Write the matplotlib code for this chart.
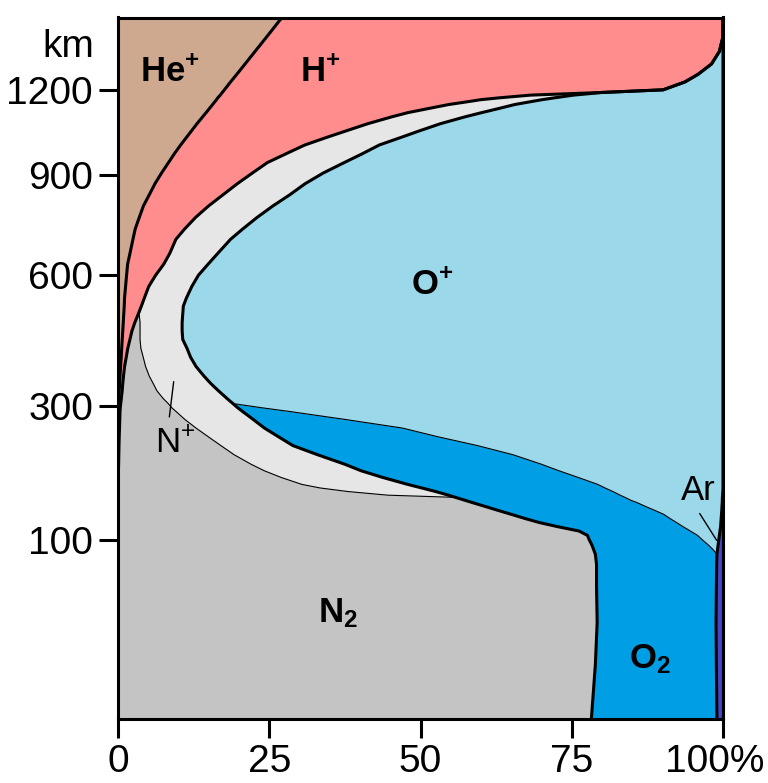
import numpy as np
import matplotlib.pyplot as plt
import matplotlib.transforms as mtransforms

plt.rcParams['font.family'] = ['Liberation Sans', 'DejaVu Sans']
plt.rcParams['mathtext.fontset'] = 'custom'
plt.rcParams['mathtext.rm'] = 'Liberation Sans'
plt.rcParams['mathtext.bf'] = 'Liberation Sans:bold'
plt.rcParams['mathtext.it'] = 'Liberation Sans:italic'

# altitude levels (km)
alt_km = [0, 10, 30, 55, 75, 85, 90, 95, 100, 105, 110, 115, 120, 125, 130, 135,
          140, 145, 148, 152, 155, 160, 165, 170, 180, 190, 200, 215, 230, 245,
          260, 275, 290, 297, 305, 315, 330, 345, 360, 380, 400, 420, 440, 460,
          480, 500, 520, 540, 570, 600, 630, 660, 700, 730, 765, 800, 835, 870,
          905, 940, 970, 1000, 1025, 1050, 1075, 1100, 1115, 1130, 1145, 1155,
          1163, 1170, 1180, 1190, 1200, 1230, 1260, 1300, 1350, 1390, 1410, 1490]

# cumulative share (%) counted from the left, one edge per species boundary
# He+ | H+
he_edge = [0] * 32 + [0.05, 0.08, 0.1, 0.13, 0.2, 0.27, 0.33, 0.43, 0.53, 0.61,
                      0.7, 0.79, 0.87, 0.95, 1.03, 1.08, 1.25, 1.42, 1.59, 1.98,
                      2.47, 2.84, 3.52, 4.2, 5.17, 6.1, 7.19, 8.35, 9.32, 10.36,
                      11.27, 12.17, 13.06, 14.0, 14.56, 15.1, 15.64, 16.0, 16.28, 16.5,
                      16.9, 17.24, 17.59, 18.6, 19.65, 21.0, 22.65, 23.95, 24.6, 27.1]
# H+ | rest
hplus_edge = [0] * 23 + [0.02, 0.05, 0.07, 0.1, 0.13, 0.16, 0.2, 0.25, 0.29, 0.33,
                         0.37, 0.45, 0.55, 0.69, 0.79, 0.91, 1.09, 1.36, 1.62, 1.97,
                         2.31, 2.79, 3.34, 3.87, 4.35, 5.08, 6.23, 7.57, 8.56, 9.57,
                         11.0, 12.83, 14.97, 17.36, 19.7, 22.2, 24.7, 27.8, 30.9, 34.3,
                         37.8, 41.3, 45.3, 47.9, 51.3, 54.7, 57.7, 60.0, 63.1, 68.2,
                         80.0, 90.1, 93.7, 95.9, 98.1, 99.4, 99.8, 100, 100]
# N+ (or N2) | O2 / O+ (thick line); joins the H+ edge from 1190 km up
nplus_edge = [78.2, 78.9, 79.2, 79.1, 79.1, 78.9, 78.6, 78.3, 77.9, 77.6,
              76.2, 72.7, 69.6, 67.2, 65.0, 62.8, 60.7, 58.6, 57.4, 55.8,
              54.6, 52.5, 50.2, 47.9, 43.8, 40.2, 37.5, 33.0, 28.9, 26.5,
              24.2, 22.4, 20.6, 19.8, 19.0, 18.0, 16.6, 15.3, 14.2, 12.9,
              12.0, 11.4, 10.7, 10.6, 10.6, 10.7, 10.8, 11.3, 12.2, 13.3,
              14.9, 16.5, 18.6, 20.6, 23.0, 25.6, 28.4, 30.9, 33.9, 37.4,
              40.4, 43.2, 46.6, 49.9, 53.3, 57.4, 60.1, 62.9, 65.6, 68.1,
              70.1, 72.2, 75.3] + hplus_edge[73:]
# N2 | N+ (thin line), 152-500 km
n2_own = [55.8, 44.6, 38.0, 33.4, 30.4, 27.0, 24.2, 22.0, 19.2, 17.0,
          14.9, 12.9, 11.1, 9.6, 8.9, 8.3, 7.45, 6.43, 5.8, 5.16,
          4.56, 4.17, 3.78, 3.64, 3.64, 3.64, 3.5]
n2_edge = nplus_edge[:19] + n2_own + hplus_edge[46:]
# Ar | O+ / O2 (thick line at the right edge)
ar_edge = [99.0, 98.9, 98.85, 98.9, 98.95, 99.0, 99.1, 99.2, 99.3, 99.4,
           99.5, 99.6, 99.65, 99.7, 99.75, 99.8, 99.83, 99.87, 99.89, 99.9,
           99.93, 99.97, 100] + [100] * 59
# O2 | O+ (thin line), 90-297 km
o2_own = [98.3, 97.5, 96.6, 95.8, 94.6, 93.4, 92.3, 91.2, 90.2, 88.7,
          87.2, 85.8, 84.8, 83.8, 83.0, 81.8, 80.5, 79.3, 76.1, 72.9,
          70.0, 65.3, 59.4, 52.8, 47.0, 37.8, 28.4, 23.8]
o2_edge = ar_edge[:6] + o2_own + nplus_edge[34:]

fig = plt.figure(figsize=(7.68, 7.83), dpi=100)
ax = fig.add_axes([118 / 768, 1 - 718.5 / 783, 605 / 768, 701 / 783])
ax.set_yscale('function', functions=(lambda h: np.sqrt(np.clip(h, 0, None)),
                                     lambda s: np.square(s)))

# paint from the left, each layer covering everything to its right
layers = [(np.zeros(len(alt_km)), '#cea88f'),   # He+
          (he_edge, '#ff8d8d'),                 # H+
          (hplus_edge, '#c4c4c4'),              # N2
          (n2_edge, '#e6e6e6'),                 # N+
          (nplus_edge, '#009fe5'),              # O2
          (o2_edge, '#9ad8ea'),                 # O+
          (ar_edge, '#4444c4')]                 # Ar
for edge, col in layers:
    ax.fill_betweenx(alt_km, edge, 100, color=col, linewidth=0, zorder=1)

for edge in [n2_edge, o2_edge]:
    ax.plot(edge, alt_km, color='k', lw=0.8, zorder=2)
for edge in [he_edge, hplus_edge, nplus_edge, ar_edge]:
    ax.plot(edge, alt_km, color='k', lw=2.2, zorder=3, solid_joinstyle='round')

ax.set_xlim(0, 100)
ax.set_ylim(0.05, 1490)
ax.set_xticks([0, 25, 50, 75, 100])
ax.set_xticklabels(['0', '25', '50', '75', '100%'])
ax.set_yticks([100, 300, 600, 900, 1200])
ax.set_yticklabels(['100', '300', '600', '900', '1200'])
ax.minorticks_off()
ax.tick_params(length=14, width=2.2, labelsize=28, pad=4, color='k')
last = ax.get_xticklabels()[-1]
last.set_transform(last.get_transform() +
                   mtransforms.ScaledTranslation(-8 / 100, 0, fig.dpi_scale_trans))
for sp in ax.spines.values():
    sp.set_linewidth(2.2)
    sp.set_zorder(5)

fig.text(94 / 768, 1 - 47 / 783, 'km', fontsize=28, ha='right', va='center')

bold = dict(fontsize=25, ha='center', va='center', zorder=6)
ax.text(8.6, 1270, r'$\mathbf{He^{+}}$', **bold)
ax.text(33.4, 1270, r'$\mathbf{H^{+}}$', **bold)
ax.text(51.9, 574, r'$\mathbf{O^{+}}$', **bold)
ax.text(36.4, 36, r'$\mathbf{N_{2}}$', **bold)
ax.text(87.9, 12, r'$\mathbf{O_{2}}$', **bold)

ax.text(9.4, 234, r'N$^{+}$', fontsize=25, ha='center', va='center', zorder=6)
ax.annotate('', xy=(9.26, 354), xytext=(8.43, 275),
            arrowprops=dict(arrowstyle='-', lw=1, color='k'), zorder=6)
ax.text(95.9, 162, 'Ar', fontsize=25, ha='center', va='center', zorder=6)
ax.annotate('', xy=(99.2, 97), xytext=(95.9, 134),
            arrowprops=dict(arrowstyle='-', lw=1, color='k'), zorder=6)

fig.savefig('out.png', dpi=100)
